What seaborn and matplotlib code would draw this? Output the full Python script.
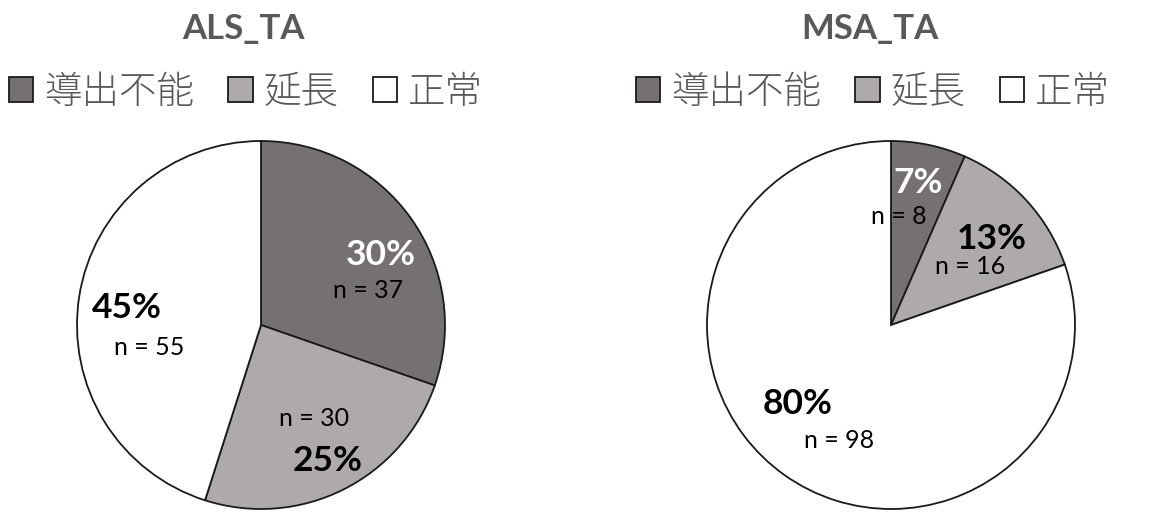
import matplotlib
matplotlib.use("Agg")
import matplotlib.pyplot as plt
import seaborn as sns

# Categories and counts for the two groups
categories = ["導出不能", "延長", "正常"]
als_counts = [37, 30, 55]
msa_counts = [8, 16, 98]
titles = ["ALS_TA", "MSA_TA"]

sns.set_theme(style="white")
plt.rcParams["font.family"] = ["Lato", "Noto Sans CJK JP", "DejaVu Sans"]

slice_colors = ["#767171", "#AEAAAA", "#FFFFFF"]
pct_colors = {
    "ALS_TA": ["white", "black", "black"],
    "MSA_TA": ["white", "black", "black"],
}
# label placements (pie radius units): (pct xy, count xy)
label_pos = {
    "ALS_TA": [((0.65, 0.38), (0.58, 0.19)),
               ((0.36, -0.74), (0.29, -0.51)),
               ((-0.73, 0.09), (-0.61, -0.12))],
    "MSA_TA": [((0.15, 0.77), (0.04, 0.59)),
               ((0.55, 0.47), (0.43, 0.32)),
               ((-0.51, -0.43), (-0.28, -0.63))],
}

W, H = 1162, 513
fig = plt.figure(figsize=(W / 100, H / 100), dpi=100)

centers = [(261, 325), (891, 325)]
R = 184
pad = 1.03
text_gray = "#595959"

for (cx, cy), title, counts, tcx in zip(centers, titles, [als_counts, msa_counts], [243, 870]):
    half = R * pad
    ax = fig.add_axes([(cx - half) / W, (H - cy - half) / H, 2 * half / W, 2 * half / H])
    wedges, _ = ax.pie(counts, colors=slice_colors, startangle=90, counterclock=False,
                       wedgeprops=dict(edgecolor="#1a1a1a", linewidth=1.3))
    ax.set_xlim(-pad, pad)
    ax.set_ylim(-pad, pad)
    ax.set_aspect("equal")
    total = sum(counts)
    for i, c in enumerate(counts):
        (px, py), (nx, ny) = label_pos[title][i]
        ax.text(px, py, f"{round(100 * c / total)}%", ha="center", va="center",
                fontsize=25.5, fontweight="bold", color=pct_colors[title][i])
        ax.text(nx, ny, f"n = {c}", ha="center", va="center", fontsize=18, color="black")

    fig.text(tcx / W, 1 - 29 / H, title, ha="center", va="center", fontsize=25,
             fontweight="bold", color=text_gray)
    leg = fig.legend(wedges, categories, loc="center", bbox_to_anchor=((tcx + 3) / W, 1 - 92 / H),
                     ncol=3, frameon=False, handlelength=0.65, handleheight=0.65,
                     handletextpad=0.3, columnspacing=0.9, borderaxespad=0,
                     prop={"family": ["Noto Sans CJK JP", "DejaVu Sans"], "size": 27,
                           "weight": "light"})
    for t in leg.get_texts():
        t.set_color(text_gray)

fig.savefig("out.png", dpi=100)
